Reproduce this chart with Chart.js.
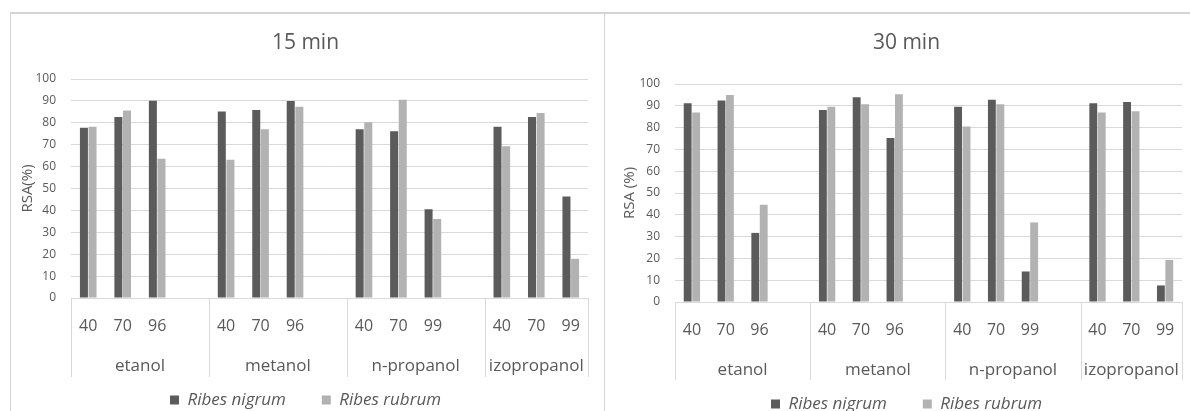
<!DOCTYPE html>
<html>
<head>
<meta charset="utf-8">
<script src="https://cdn.jsdelivr.net/npm/chart.js@4"></script>
<style>
  html, body { margin: 0; padding: 0; background: #fff; overflow: hidden; width: 1190px; height: 411px; }
  .rule { position: absolute; background: #d4d4d4; }
  canvas { position: absolute; top: 0; }
</style>
</head>
<body>
<div class="rule" style="left:10px;top:12px;width:1180px;height:2px;"></div>
<div class="rule" style="left:10px;top:13px;width:1px;height:398px;"></div>
<div class="rule" style="left:604px;top:13px;width:1px;height:398px;"></div>
<canvas id="c15" width="589" height="425" style="left:11px"></canvas>
<canvas id="c30" width="603" height="425" style="left:605px"></canvas>
<script>
// Solvents and the concentrations (%) tested for each
const solvents = ['etanol', 'metanol', 'n-propanol', 'izopropanol'];
const concentrations = [['40', '70', '96'], ['40', '70', '96'], ['40', '70', '99'], ['40', '70', '99']];
const seriesNames = ['Ribes nigrum', 'Ribes rubrum'];

// RSA (%) after 15 min, in solvent/concentration order
const nigrum15 = [77.7, 82.6, 90.1, 85.2, 85.8, 90.0, 77.1, 76.1, 40.5, 78.2, 82.6, 46.3];
const rubrum15 = [78.2, 85.6, 63.6, 63.1, 77.1, 87.3, 80.2, 90.5, 36.1, 69.3, 84.5, 17.9];

// RSA (%) after 30 min
const nigrum30 = [91.2, 92.4, 31.7, 88.1, 93.9, 75.2, 89.6, 92.8, 14.0, 91.2, 91.8, 7.6];
const rubrum30 = [86.9, 95.0, 44.6, 89.6, 90.7, 95.3, 80.5, 90.7, 36.5, 86.9, 87.5, 19.3];

const TEXT = '#595959';
const GRID = '#d9d9d9';
const DARK = '#5b5b5b';
const LIGHT = '#b2b2b2';

Chart.defaults.font.family = "'Open Sans', sans-serif";
Chart.defaults.color = TEXT;

// Category slots: one empty slot separates consecutive solvent groups
function slotLabels() {
  const out = [];
  concentrations.forEach((g, i) => {
    out.push(...g);
    if (i < concentrations.length - 1) out.push('');
  });
  return out;
}
function slotValues(vals) {
  const out = [];
  let k = 0;
  concentrations.forEach((g, i) => {
    g.forEach(() => out.push(vals[k++]));
    if (i < concentrations.length - 1) out.push(null);
  });
  return out;
}
function groupRanges() {
  const r = [];
  let start = 0;
  concentrations.forEach((g, i) => {
    const len = g.length + (i < concentrations.length - 1 ? 1 : 0);
    r.push([start, start + len - 1]);
    start += len;
  });
  return r;
}

// Second row of the category axis: solvent names and the dividers between groups
const groupAxis = {
  id: 'groupAxis',
  afterDraw(chart, args, opts) {
    const x = chart.scales.x;
    const ctx = chart.ctx;
    const bottom = chart.chartArea.bottom;
    const half = (x.getPixelForValue(1) - x.getPixelForValue(0)) / 2;
    ctx.save();
    ctx.strokeStyle = opts.lineColor;
    ctx.lineWidth = 1;
    ctx.fillStyle = opts.color;
    ctx.font = opts.font;
    ctx.textAlign = 'center';
    ctx.textBaseline = 'middle';
    const edges = [];
    groupRanges().forEach(([a, b], i) => {
      const l = x.getPixelForValue(a) - half;
      const r = x.getPixelForValue(b) + half;
      if (i === 0) edges.push(l);
      edges.push(r);
      ctx.fillText(solvents[i], (l + r) / 2, bottom + opts.labelOffset);
    });
    edges.forEach(e => {
      const px = Math.round(e) + 0.5;
      ctx.beginPath();
      ctx.moveTo(px, bottom);
      ctx.lineTo(px, bottom + opts.lineLength);
      ctx.stroke();
    });
    ctx.restore();
  }
};

function drawPanel(id, title, nigrum, rubrum, g) {
  return new Chart(document.getElementById(id), {
    type: 'bar',
    data: {
      labels: slotLabels(),
      datasets: [
        { label: seriesNames[0], data: slotValues(nigrum), backgroundColor: DARK, borderWidth: 0,
          categoryPercentage: 0.5, barPercentage: 0.93 },
        { label: seriesNames[1], data: slotValues(rubrum), backgroundColor: LIGHT, borderWidth: 0,
          categoryPercentage: 0.5, barPercentage: 0.93 }
      ]
    },
    options: {
      responsive: false,
      animation: false,
      devicePixelRatio: 1,
      layout: { padding: { bottom: g.padBottom } },
      plugins: {
        title: {
          display: true, text: title, color: TEXT,
          font: { size: 21, weight: 'normal' },
          padding: { top: g.titleTop, bottom: g.titleBottom }
        },
        legend: {
          position: 'bottom',
          labels: { boxWidth: 9, boxHeight: 9, padding: 36, color: TEXT,
                    font: { size: 17, style: 'italic' } }
        },
        tooltip: { enabled: false },
        groupAxis: {
          color: TEXT, lineColor: GRID, font: "17px 'Open Sans', sans-serif",
          labelOffset: g.groupOffset, lineLength: g.lineLength
        }
      },
      scales: {
        x: {
          grid: { display: false, drawTicks: false },
          border: { display: false },
          ticks: { color: TEXT, font: { size: 16 }, padding: 18.4, autoSkip: false, maxRotation: 0 },
          afterFit(s) { s.height = g.xHeight; }
        },
        y: {
          min: 0, max: 100,
          ticks: { stepSize: 10, color: TEXT, font: { size: 12 }, padding: 15 },
          grid: { color: GRID, drawTicks: false },
          border: { display: false },
          title: { display: true, text: g.yTitle, color: TEXT, font: { size: 15 },
                   padding: { top: g.yTitlePad, bottom: 0 } },
          afterFit(s) { s.width = g.yWidth; }
        },
        pad: {
          type: 'linear', position: 'right', display: true,
          grid: { display: false, drawTicks: false },
          border: { display: false },
          ticks: { display: false },
          afterFit(s) { s.width = g.rightWidth; }
        }
      }
    },
    plugins: [groupAxis]
  });
}

drawPanel('c15', '15 min', nigrum15, rubrum15, {
  padBottom: 6.5, titleTop: 30.4, titleBottom: 23.4, xHeight: 57.5,
  yWidth: 60, rightWidth: 12, yTitle: 'RSA(%)', yTitlePad: 8,
  groupOffset: 68, lineLength: 79
});
drawPanel('c30', '30 min', nigrum30, rubrum30, {
  padBottom: 2.5, titleTop: 30.4, titleBottom: 28.4, xHeight: 57.5,
  yWidth: 70, rightWidth: 26, yTitle: 'RSA (%)', yTitlePad: 16,
  groupOffset: 68, lineLength: 78
});
</script>
</body>
</html>
